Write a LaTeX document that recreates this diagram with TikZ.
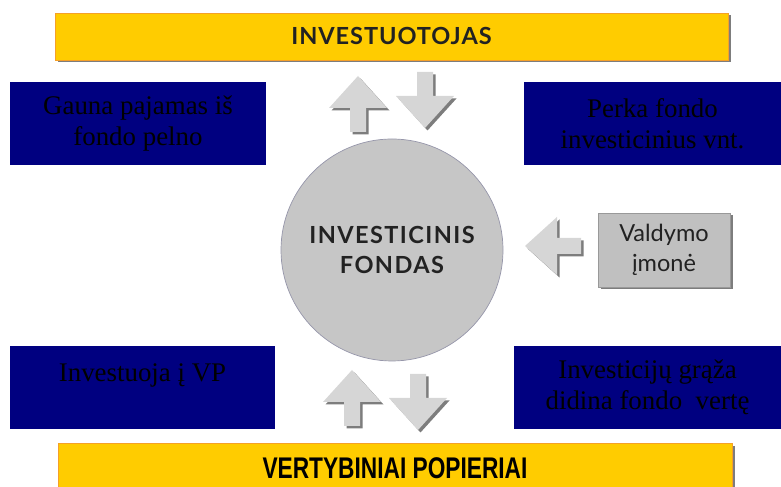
\documentclass[tikz,border=0pt]{standalone}
\usepackage{fontspec}
\setmainfont{Liberation Serif}
\newfontfamily\titlefont{Lato}[LetterSpace=4]
\newfontfamily\fundfont{Lato}[LetterSpace=6]
\newfontfamily\boxfont{Lato}
\newfontfamily\narrowfont{Liberation Sans}[FakeStretch=0.76]
\usetikzlibrary{shadows}

\definecolor{barYellow}{RGB}{255,204,0}
\definecolor{barEdge}{RGB}{245,160,40}
\definecolor{noteBlue}{RGB}{0,0,128}
\definecolor{fundGray}{RGB}{198,198,198}
\definecolor{fundEdge}{RGB}{150,150,170}
\definecolor{boxGray}{RGB}{192,192,192}
\definecolor{arrowGray}{RGB}{214,214,214}
\definecolor{shadowGray}{RGB}{125,125,125}
\definecolor{labelDark}{RGB}{34,34,34}

\tikzset{
  bar/.style={draw=barEdge, fill=barYellow, line width=0.5pt, minimum width=13.46cm,
    minimum height=0.94cm, text=labelDark,
    drop shadow={shadow xshift=0.05cm, shadow yshift=-0.05cm, fill=shadowGray, opacity=1}},
  note/.style={fill=noteBlue, text=black, align=center, inner sep=0pt,
    minimum height=1.66cm, font=\fontsize{15.3}{17.5}\selectfont},
  fatarrow/.pic={\path[pic actions] (0,0) -- (0.58,-0.64) -- (0.16,-0.64) -- (0.16,-1.12)
    -- (-0.16,-1.12) -- (-0.16,-0.64) -- (-0.58,-0.64) -- cycle;}
}

\begin{document}
\begin{tikzpicture}
    \useasboundingbox (0,0) rectangle (15.62,9.74);

    % bars
    \node[bar, font=\titlefont\bfseries\fontsize{13.4}{16}\selectfont] (investor) at (7.83,9.01) {INVESTUOTOJAS};
    \node[bar, anchor=north, minimum width=13.48cm, minimum height=1.0cm,
      font=\narrowfont\bfseries\fontsize{17}{20}\selectfont, text=black] (securities) at (7.90,0.88) {VERTYBINIAI POPIERIAI};

    % blue notes
    \node[note, minimum width=5.12cm] (income) at (2.76,7.27) {Gauna pajamas iš\\fondo pelno};
    \node[note, minimum width=5.14cm] (buy) at (13.05,7.27) {Perka fondo\\investicinius vnt.};
    \node[note, minimum width=5.30cm] (invest) at (2.85,1.99) {Investuoja į VP\\ \mbox{}};
    \node[note, minimum width=5.34cm] (return) at (12.95,1.99) {Investicijų grąža\\didina fondo\ \ vertę};

    % fund and management company
    \node[circle, fill=fundGray, draw=fundEdge, line width=0.4pt, minimum size=4.44cm, align=center,
      text=labelDark, font=\fundfont\bfseries\fontsize{13.4}{17}\selectfont] (fund) at (7.84,4.74) {INVESTICINIS\\FONDAS};
    \node[fill=boxGray, draw=gray!80, minimum width=2.64cm, minimum height=1.48cm, align=center,
      text=labelDark, font=\boxfont\fontsize{13.4}{17}\selectfont,
      drop shadow={shadow xshift=0.05cm, shadow yshift=-0.05cm, fill=shadowGray, opacity=1}] (mgmt) at (13.28,4.74) {Valdymo\\įmonė};

    % block arrows
    \foreach \x/\y/\r in {7.16/8.22/0, 8.50/7.18/180, 10.50/4.82/90, 7.04/2.34/0, 8.36/1.14/180} {
        \pic[rotate=\r, fill=shadowGray] at (\x+0.05,\y-0.05) {fatarrow};
        \pic[rotate=\r, fill=arrowGray] at (\x,\y) {fatarrow};
    }
\end{tikzpicture}
\end{document}
